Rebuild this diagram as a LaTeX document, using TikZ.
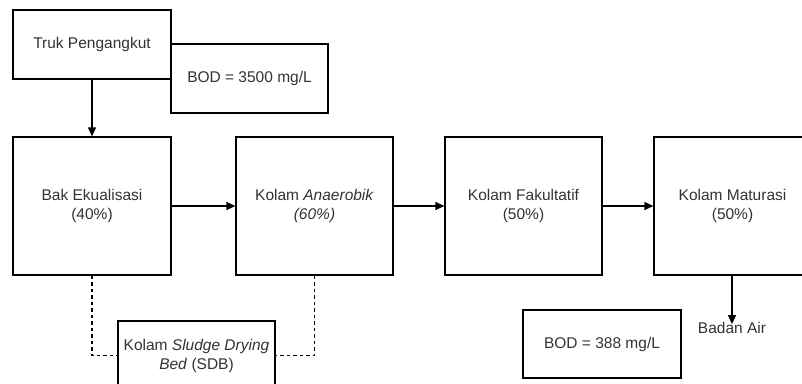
\documentclass[tikz,border=0pt]{standalone}
\usepackage{fontspec}
\setmainfont{Liberation Sans}
\usetikzlibrary{arrows.meta}
\definecolor{txt}{HTML}{333333}
\tikzset{
  box/.style={draw=black, line width=1.2pt, fill=white, text=txt, align=center, inner sep=0pt, font=\fontsize{15.5}{19}\selectfont},
  flow/.style={line width=1.2pt, -{Triangle[length=9pt,width=8pt]}},
  dash line/.style={line width=1.2pt, dash pattern=on 3.5pt off 3pt}
}
\begin{document}
\begin{tikzpicture}[x=1pt,y=-1pt]
\useasboundingbox (0,0) rectangle (802,383);
\node[box, minimum width=157pt, minimum height=69pt] (bod1) at (249.5,78.5) {BOD = 3500 mg/L};
\node[box, minimum width=158pt, minimum height=69pt] (truk) at (92,44.5) {Truk Pengangkut};
\node[box, minimum width=158pt, minimum height=138pt] (bak) at (92,206) {Bak Ekualisasi\\(40\%)};
\node[box, minimum width=157pt, minimum height=138pt] (ana) at (314.5,206) {Kolam \textit{Anaerobik}\\\textit{(60\%)}};
\node[box, minimum width=157pt, minimum height=138pt] (fak) at (523.5,206) {Kolam Fakultatif\\(50\%)};
\node[box, minimum width=157pt, minimum height=138pt] (mat) at (732.5,206) {Kolam Maturasi\\(50\%)};
\node[box, minimum width=157pt, minimum height=69pt] (sdb) at (196.5,355.5) {Kolam \textit{Sludge Drying}\\\textit{Bed} (SDB)};
\node[box, minimum width=158pt, minimum height=68pt] (bod2) at (602,344) {BOD = 388 mg/L};
\node[text=txt, inner sep=0pt, font=\fontsize{15.5}{19}\selectfont] (air) at (732,328) {Badan Air};
\draw[flow] (truk.south) -- (bak.north);
\draw[flow] (bak.east) -- (ana.west);
\draw[flow] (ana.east) -- (fak.west);
\draw[flow] (fak.east) -- (mat.west);
\draw[flow] (mat.south -| air.north) -- ([yshift=-2pt]air.north);
\draw[dash line] (bak.south) |- (sdb.west);
\draw[dash line] (ana.south) |- (sdb.east);
\end{tikzpicture}
\end{document}
